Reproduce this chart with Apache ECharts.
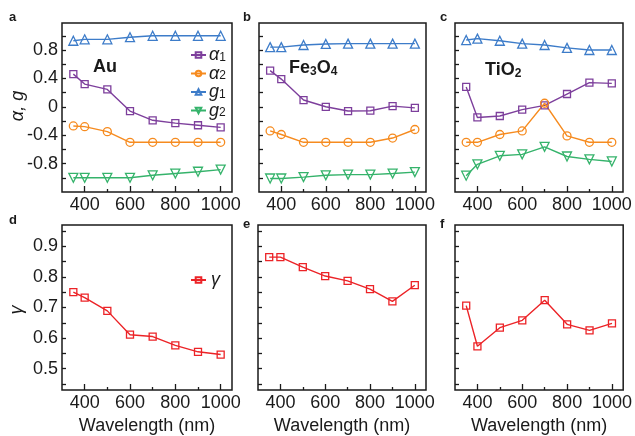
<!DOCTYPE html>
<html><head><meta charset="utf-8">
<script src="https://cdn.jsdelivr.net/npm/echarts@6/dist/echarts.min.js"></script>
<style>html,body{margin:0;padding:0;background:#fff}#c{width:635px;height:436px}</style>
</head><body><div id="c"></div>
<script>
const wavelengths = [350, 400, 500, 600, 700, 800, 900, 1000];
// Au
const au_a1 = [0.46, 0.32, 0.245, -0.06, -0.19, -0.23, -0.26, -0.29];
const au_a2 = [-0.27, -0.28, -0.35, -0.5, -0.5, -0.5, -0.5, -0.5];
const au_g1 = [0.93, 0.95, 0.95, 0.98, 1.0, 1.0, 1.0, 1.0];
const au_g2 = [-1.0, -1.0, -1.0, -1.0, -0.965, -0.94, -0.915, -0.885];
// Fe3O4
const fe_a1 = [0.51, 0.39, 0.095, 0.0, -0.06, -0.055, 0.01, -0.015];
const fe_a2 = [-0.34, -0.39, -0.5, -0.5, -0.5, -0.5, -0.44, -0.32];
const fe_g1 = [0.84, 0.84, 0.87, 0.885, 0.89, 0.89, 0.89, 0.89];
const fe_g2 = [-1.01, -1.01, -0.99, -0.965, -0.955, -0.955, -0.94, -0.92];
// TiO2
const ti_a1 = [0.28, -0.15, -0.13, -0.04, 0.02, 0.18, 0.34, 0.33];
const ti_a2 = [-0.5, -0.5, -0.39, -0.34, 0.05, -0.41, -0.5, -0.5];
const ti_g1 = [0.94, 0.96, 0.93, 0.89, 0.87, 0.83, 0.80, 0.80];
const ti_g2 = [-0.97, -0.81, -0.69, -0.67, -0.565, -0.70, -0.74, -0.77];
// gamma
const au_gamma = [0.75, 0.732, 0.689, 0.611, 0.605, 0.576, 0.555, 0.546];
const fe_gamma = [0.865, 0.865, 0.832, 0.803, 0.787, 0.76, 0.72, 0.773];
const ti_gamma = [0.706, 0.573, 0.634, 0.658, 0.724, 0.645, 0.625, 0.648];
// ticks
const xMajorTicks = [400, 600, 800, 1000];
const xMinorTicks = [500, 700, 900];
const topYTicks = [-1.0, -0.8, -0.6, -0.4, -0.2, 0, 0.2, 0.4, 0.6, 0.8, 1.0];
const topYLabels = [-0.8, -0.4, 0, 0.4, 0.8];
const botYTicks = [0.45, 0.5, 0.55, 0.6, 0.65, 0.7, 0.75, 0.8, 0.85, 0.9, 0.95];
const botYLabels = [0.5, 0.6, 0.7, 0.8, 0.9];

const FONT = 'Liberation Sans, Arial, Helvetica, sans-serif';
const INK = '#1a1a1a';
const C = {a1: '#7d3f9c', a2: '#f68b1f', g1: '#3d7cc9', g2: '#35b36b', gm: '#ec2327'};

const grids = [
  {left: 62, top: 23, width: 170, height: 169},
  {left: 259, top: 23, width: 167, height: 169},
  {left: 455, top: 23, width: 168, height: 169},
  {left: 62, top: 225, width: 170, height: 168},
  {left: 258, top: 225, width: 168, height: 168},
  {left: 455, top: 225, width: 169, height: 168}
].map(g => Object.assign(g, {show: true, borderColor: INK, borderWidth: 1.5, backgroundColor: 'transparent'}));

const xAxes = [], yAxes = [];
grids.forEach((g, i) => {
  const bottomRow = i >= 3;
  xAxes.push({
    type: 'value', gridIndex: i, min: 300, max: 1050, position: 'bottom',
    axisLine: {show: false, onZero: false}, splitLine: {show: false},
    axisTick: {show: true, inside: true, length: 6, customValues: xMajorTicks, lineStyle: {color: INK, width: 1.3}},
    axisLabel: {show: true, customValues: xMajorTicks, fontSize: 18, color: INK, fontFamily: FONT, margin: 4, formatter: v => String(v)},
    name: bottomRow ? 'Wavelength (nm)' : '', nameLocation: 'middle', nameGap: 27,
    nameTextStyle: {fontSize: 18, color: INK, fontFamily: FONT}
  });
  xAxes.push({
    type: 'value', gridIndex: i, min: 300, max: 1050, position: 'bottom',
    axisLine: {show: false, onZero: false}, splitLine: {show: false},
    axisTick: {show: true, inside: true, length: 3, customValues: xMinorTicks, lineStyle: {color: INK, width: 1.3}},
    axisLabel: {show: false}
  });
  yAxes.push({
    type: 'value', gridIndex: i, position: 'left',
    min: bottomRow ? 0.43 : -1.2, max: bottomRow ? 0.97 : 1.18,
    axisLine: {show: false, onZero: false}, splitLine: {show: false},
    axisTick: {show: true, inside: true, length: 4, customValues: bottomRow ? botYTicks : topYTicks, lineStyle: {color: INK, width: 1.3}},
    axisLabel: {show: i === 0 || i === 3, customValues: bottomRow ? botYLabels : topYLabels, fontSize: 18, color: INK, fontFamily: FONT, margin: 4, formatter: v => String(v)}
  });
});

function pts(arr) { return wavelengths.map((w, k) => [w, arr[k]]); }
function mk(name, arr, gi, color, symbol, size, rot) {
  return {
    type: 'line', name: name, xAxisIndex: gi * 2, yAxisIndex: gi, data: pts(arr),
    symbol: symbol, symbolSize: size, symbolRotate: rot || 0, showAllSymbol: true,
    lineStyle: {color: color, width: 1.4},
    itemStyle: {color: 'rgba(255,255,255,0)', borderColor: color, borderWidth: 1.3},
    emphasis: {disabled: true}, silent: true, z: 3
  };
}
const series = [];
[[au_a1, au_a2, au_g1, au_g2], [fe_a1, fe_a2, fe_g1, fe_g2], [ti_a1, ti_a2, ti_g1, ti_g2]].forEach((s, gi) => {
  series.push(mk('α1', s[0], gi, C.a1, 'rect', 7));
  series.push(mk('α2', s[1], gi, C.a2, 'circle', 8));
  series.push(mk('g1', s[2], gi, C.g1, 'triangle', 9));
  series.push(mk('g2', s[3], gi, C.g2, 'triangle', 9, 180));
});
[au_gamma, fe_gamma, ti_gamma].forEach((s, k) => series.push(mk('γ', s, 3 + k, C.gm, 'rect', 7)));

const legRich = {
  i: {fontSize: 18, fontStyle: 'italic', fontFamily: FONT, color: INK, lineHeight: 17},
  s: {fontSize: 12, fontFamily: FONT, color: INK, lineHeight: 12, verticalAlign: 'bottom'}
};
const legFmt = n => '{i|' + n.charAt(0) + '}' + (n.length > 1 ? '{s|' + n.slice(1) + '}' : '');

const txt = (x, y, text, opt) => ({type: 'text', x: x, y: y, style: Object.assign({text: text, fontFamily: FONT, fill: INK}, opt || {})});
const boldRich = {
  b: {fontSize: 18, fontWeight: 'bold', fontFamily: FONT, fill: INK, lineHeight: 20},
  s: {fontSize: 12, fontWeight: 'bold', fontFamily: FONT, fill: INK, lineHeight: 20, verticalAlign: 'bottom', padding: [6, 0, 0, 0]}
};

const option = {
  animation: false,
  backgroundColor: '#fff',
  grid: grids, xAxis: xAxes, yAxis: yAxes, series: series,
  legend: [
    {data: ['α1', 'α2', 'g1', 'g2'], orient: 'vertical', left: 185, top: 41, itemWidth: 15, itemHeight: 7, itemGap: 0.5,
      selectedMode: false, formatter: legFmt, textStyle: {rich: legRich, padding: [0, 0, 0, -2]}},
    {data: ['γ'], orient: 'vertical', left: 185, top: 266, itemWidth: 15, itemHeight: 7,
      selectedMode: false, formatter: legFmt, textStyle: {rich: legRich}}
  ],
  graphic: [
    txt(9, 11, 'a', {fontSize: 13, fontWeight: 'bold'}),
    txt(243, 11, 'b', {fontSize: 13, fontWeight: 'bold'}),
    txt(440, 11, 'c', {fontSize: 13, fontWeight: 'bold'}),
    txt(9, 214, 'd', {fontSize: 13, fontWeight: 'bold'}),
    txt(243, 218, 'e', {fontSize: 13, fontWeight: 'bold'}),
    txt(440, 218, 'f', {fontSize: 13, fontWeight: 'bold'}),
    txt(93, 58, 'Au', {fontSize: 18, fontWeight: 'bold'}),
    {type: 'text', x: 289, y: 58, style: {text: '{b|Fe}{s|3}{b|O}{s|4}', rich: boldRich}},
    {type: 'text', x: 485, y: 60, style: {text: '{b|TiO}{s|2}', rich: boldRich}},
    {type: 'text', x: 18, y: 106, rotation: Math.PI / 2, style: {text: 'α, g', fontSize: 18, fontStyle: 'italic', fontFamily: FONT, fill: INK, align: 'center', verticalAlign: 'middle'}},
    {type: 'text', x: 17, y: 310, rotation: Math.PI / 2, style: {text: 'γ', fontSize: 18, fontStyle: 'italic', fontFamily: FONT, fill: INK, align: 'center', verticalAlign: 'middle'}}
  ]
};
const chart = echarts.init(document.getElementById('c'), null, {renderer: 'canvas'});
chart.setOption(option);
</script></body></html>
